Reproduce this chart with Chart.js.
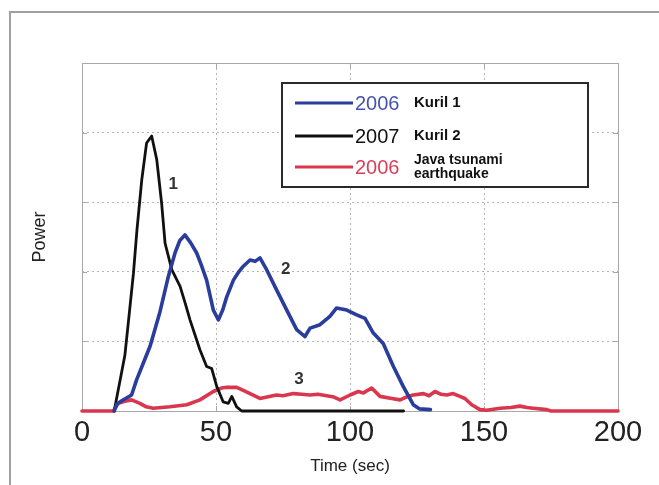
<!DOCTYPE html>
<html>
<head>
<meta charset="utf-8">
<script src="https://cdn.jsdelivr.net/npm/chart.js@4.4.1/dist/chart.umd.min.js"></script>
<style>
  html, body { margin: 0; padding: 0; background: #ffffff; }
  #wrap { position: relative; width: 659px; height: 485px; }
</style>
</head>
<body>
<div id="wrap"><canvas id="c" width="659" height="485"></canvas></div>
<script>
// ---- Data ----
const xTicks = [0, 50, 100, 150, 200];

const kuril1Time  = [12, 13, 15, 18.5, 20.4, 23, 25.4, 29, 32.2, 34.7, 36.5, 38.4, 40.5, 42.8, 44.5, 46.5, 49, 50.9, 52.5, 54, 56.5, 58.5, 60.2, 62.7, 64.6, 66.4, 68.9, 72.6, 76.4, 80.1, 83.2, 85.1, 88.8, 92.5, 95, 98.8, 102.5, 105.6, 108.7, 112.4, 116.2, 119.9, 123.6, 126, 130];
const kuril1Power = [0, 0.1, 0.15, 0.23, 0.45, 0.7, 0.93, 1.41, 1.93, 2.27, 2.45, 2.53, 2.42, 2.27, 2.1, 1.88, 1.45, 1.31, 1.45, 1.64, 1.88, 2.0, 2.08, 2.17, 2.15, 2.2, 2.03, 1.74, 1.45, 1.17, 1.07, 1.19, 1.24, 1.36, 1.48, 1.45, 1.38, 1.33, 1.12, 0.97, 0.64, 0.35, 0.09, 0.03, 0.02];

const kuril2Time  = [12, 12.3, 14, 16, 17.5, 19.2, 20.5, 22.3, 24.1, 26, 27.9, 29.7, 31, 33.5, 36.6, 38.5, 40.3, 44, 46.5, 48.4, 50.3, 52.7, 54.6, 55.9, 57.7, 59.6, 120];
const kuril2Power = [0, 0, 0.4, 0.8, 1.35, 1.98, 2.6, 3.32, 3.85, 3.95, 3.61, 2.99, 2.41, 2.03, 1.79, 1.55, 1.31, 0.88, 0.64, 0.61, 0.35, 0.13, 0.11, 0.21, 0.06, 0, 0];

const javaTime  = [0, 11.7, 13.5, 16, 18.5, 21.6, 24, 26.6, 32.8, 39.1, 44, 49, 52, 54, 57.7, 60, 62.7, 66.4, 69, 72.6, 75, 78.8, 82, 85.1, 88, 91.3, 94, 96.3, 100, 103.1, 105, 108.1, 111.2, 115.6, 118.7, 121, 123.6, 127.4, 129.5, 131.7, 134, 136.1, 138.5, 141, 142.9, 145.4, 148.5, 151, 156, 160, 163.4, 166, 168.4, 173.4, 175, 200];
const javaPower = [0, 0, 0.11, 0.14, 0.16, 0.11, 0.06, 0.04, 0.06, 0.09, 0.16, 0.28, 0.33, 0.34, 0.34, 0.3, 0.25, 0.18, 0.2, 0.23, 0.22, 0.25, 0.24, 0.23, 0.24, 0.22, 0.2, 0.16, 0.23, 0.28, 0.26, 0.33, 0.21, 0.18, 0.16, 0.2, 0.23, 0.25, 0.22, 0.28, 0.24, 0.23, 0.25, 0.21, 0.18, 0.09, 0.02, 0.01, 0.04, 0.05, 0.07, 0.05, 0.04, 0.02, 0, 0];

const seriesYears = ['2006', '2007', '2006'];
const seriesNames = [['Kuril 1'], ['Kuril 2'], ['Java tsunami', 'earthquake']];
const curveLabels = ['1', '2', '3'];
const curveLabelAt = [[34, 3.25], [76, 2.03], [81, 0.46]];

function pts(t, v) { return t.map((x, i) => ({ x: x, y: v[i] })); }

const COLORS = ['#2a3c9c', '#111111', '#d8374d'];
const YEAR_COLORS = ['#4652b0', '#111111', '#d8405a'];

// ---- plugin: frame, plot box, ticks, legend, labels ----
const decor = {
  id: 'decor',
  beforeDraw(chart) {
    const ctx = chart.ctx;
    ctx.save();
    ctx.fillStyle = '#ffffff';
    ctx.fillRect(0, 0, chart.width, chart.height);
    ctx.strokeStyle = '#a0a0a0';
    ctx.lineWidth = 2;
    ctx.beginPath();
    ctx.moveTo(10, chart.height);
    ctx.lineTo(10, 12);
    ctx.lineTo(chart.width, 12);
    ctx.stroke();
    ctx.restore();
  },
  beforeDatasetsDraw(chart) {
    const { ctx, chartArea: a, scales } = chart;
    ctx.save();
    ctx.strokeStyle = '#a8a8a8';
    ctx.lineWidth = 1;
    ctx.strokeRect(a.left + 0.5, a.top + 0.5, a.right - a.left, a.bottom - a.top);
    ctx.beginPath();
    [50, 100, 150].forEach(v => {
      const x = Math.round(scales.x.getPixelForValue(v)) + 0.5;
      ctx.moveTo(x, a.bottom); ctx.lineTo(x, a.bottom - 5);
      ctx.moveTo(x, a.top); ctx.lineTo(x, a.top + 5);
    });
    [1, 2, 3, 4].forEach(v => {
      const y = Math.round(scales.y.getPixelForValue(v)) + 0.5;
      ctx.moveTo(a.left, y); ctx.lineTo(a.left + 5, y);
      ctx.moveTo(a.right, y); ctx.lineTo(a.right - 5, y);
    });
    ctx.stroke();
    ctx.restore();
  },
  afterDatasetsDraw(chart) {
    const { ctx, scales } = chart;
    ctx.save();
    ctx.fillStyle = '#333333';
    ctx.font = 'bold 17px "Liberation Sans", Arial, sans-serif';
    ctx.textAlign = 'center';
    ctx.textBaseline = 'middle';
    curveLabels.forEach((s, i) => {
      ctx.fillText(s, scales.x.getPixelForValue(curveLabelAt[i][0]), scales.y.getPixelForValue(curveLabelAt[i][1]));
    });
    const bx = 282, by = 83, bw = 306, bh = 104;
    ctx.fillStyle = '#ffffff';
    ctx.fillRect(bx, by, bw, bh);
    ctx.strokeStyle = '#2a2a2a';
    ctx.lineWidth = 2;
    ctx.strokeRect(bx, by, bw, bh);
    const rows = [103, 136, 167];
    chart.data.datasets.forEach((ds, i) => {
      const y = rows[i];
      ctx.strokeStyle = ds.borderColor;
      ctx.lineWidth = 3;
      ctx.beginPath();
      ctx.moveTo(295, y); ctx.lineTo(353, y);
      ctx.stroke();
      ctx.textAlign = 'left';
      ctx.textBaseline = 'middle';
      ctx.fillStyle = YEAR_COLORS[i];
      ctx.font = '20px "Liberation Sans", Arial, sans-serif';
      ctx.fillText(seriesYears[i], 355, y + 1);
      ctx.fillStyle = '#111111';
      const names = seriesNames[i];
      if (names.length === 1) {
        ctx.font = 'bold 15px "Liberation Sans", Arial, sans-serif';
        ctx.fillText(names[0], 414, y);
      } else {
        ctx.font = 'bold 14px "Liberation Sans", Arial, sans-serif';
        ctx.fillText(names[0], 414, y - 7);
        ctx.fillText(names[1], 414, y + 7);
      }
    });
    ctx.restore();
  }
};

new Chart(document.getElementById('c'), {
  type: 'line',
  data: {
    datasets: [
      { label: seriesYears[0] + ' ' + seriesNames[0].join(' '), data: pts(kuril1Time, kuril1Power), borderColor: COLORS[0], borderWidth: 3.6 },
      { label: seriesYears[1] + ' ' + seriesNames[1].join(' '), data: pts(kuril2Time, kuril2Power), borderColor: COLORS[1], borderWidth: 2.8 },
      { label: seriesYears[2] + ' ' + seriesNames[2].join(' '), data: pts(javaTime, javaPower), borderColor: COLORS[2], borderWidth: 3.6 }
    ]
  },
  options: {
    responsive: false,
    animation: false,
    devicePixelRatio: 1,
    clip: false,
    elements: { point: { radius: 0 }, line: { tension: 0, borderJoinStyle: 'round', borderCapStyle: 'round' } },
    layout: { padding: { left: 0, right: 41, top: 63, bottom: 0 } },
    plugins: { legend: { display: false }, tooltip: { enabled: false } },
    scales: {
      x: {
        type: 'linear', min: 0, max: 200,
        afterBuildTicks(s) { s.ticks = xTicks.map(v => ({ value: v })); },
        afterFit(s) { s.height = 74; },
        grid: { color: '#b5b5b5', drawTicks: false, lineWidth: 1 },
        border: { display: false, dash: [2, 3] },
        ticks: { color: '#222222', padding: 5, maxRotation: 0, font: { family: '"Liberation Sans", Arial, sans-serif', size: 29 } },
        title: { display: true, text: 'Time (sec)', color: '#222222', padding: { top: 0, bottom: 8 }, font: { family: '"Liberation Sans", Arial, sans-serif', size: 17 } }
      },
      y: {
        type: 'linear', min: 0, max: 5,
        afterBuildTicks(s) { s.ticks = [0, 1, 2, 3, 4, 5].map(v => ({ value: v })); },
        afterFit(s) { s.width = 82; },
        grid: { color: '#b5b5b5', drawTicks: false, lineWidth: 1 },
        border: { display: false, dash: [2, 3] },
        ticks: { display: false },
        title: { display: true, text: 'Power', color: '#222222', padding: { top: 29, bottom: 0 }, font: { family: '"Liberation Sans", Arial, sans-serif', size: 18 } }
      }
    }
  },
  plugins: [decor]
});
</script>
</body>
</html>
